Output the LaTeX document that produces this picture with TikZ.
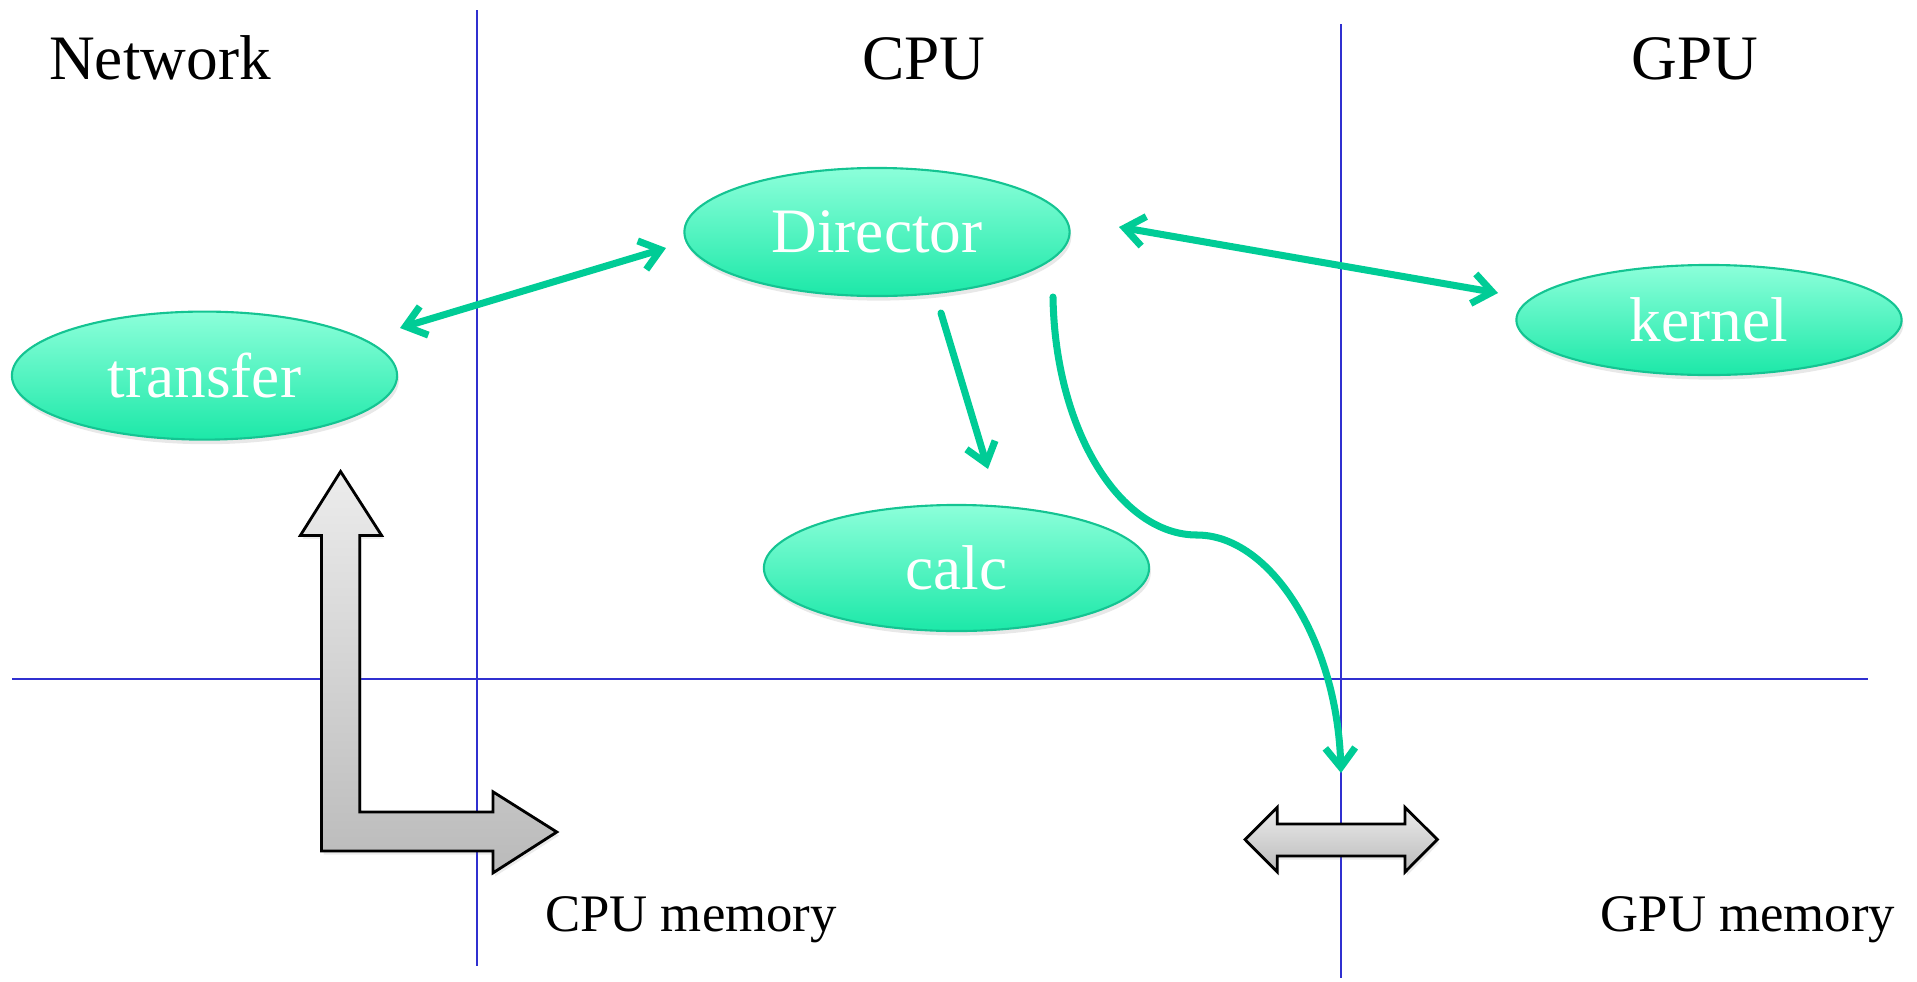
\documentclass[tikz,border=0pt]{standalone}
\usepackage{fontspec}
\setmainfont{Liberation Serif}
\usetikzlibrary{shapes.geometric,arrows.meta,shadows}

\definecolor{gridblue}{RGB}{48,48,208}
\definecolor{linkgreen}{RGB}{0,204,150}
\definecolor{bubbletop}{RGB}{140,255,218}
\definecolor{bubblebot}{RGB}{28,232,168}
\definecolor{bubbleedge}{RGB}{20,196,146}
\definecolor{blocktop}{RGB}{236,236,236}
\definecolor{blockbot}{RGB}{186,186,186}

\tikzset{
  bubble/.style={ellipse, draw=bubbleedge, line width=0.6pt,
    top color=bubbletop, bottom color=bubblebot,
    minimum width=3.85cm, minimum height=1.28cm, inner sep=0pt,
    text=white, font=\fontsize{18}{20}\selectfont,
    drop shadow={opacity=0.18, shadow xshift=0.5pt, shadow yshift=-1.3pt}},
  title/.style={font=\fontsize{18}{20}\selectfont, anchor=base, inner sep=0pt},
  memlabel/.style={font=\fontsize{15}{18}\selectfont, anchor=base, inner sep=0pt},
  divider/.style={draw=gridblue, line width=0.6pt},
  link/.style={draw=linkgreen, line width=2pt, line cap=round, line join=round},
  onehead/.style={-{Straight Barb[length=5.5pt,width=8.5pt]}},
  twohead/.style={{Straight Barb[length=5.5pt,width=8.5pt]}-{Straight Barb[length=5.5pt,width=8.5pt]}},
  block/.style={draw=black, line width=0.8pt, line join=miter,
    top color=blocktop, bottom color=blockbot,
    drop shadow={opacity=0.15, shadow xshift=0.6pt, shadow yshift=-1pt}}
}

\begin{document}
\begin{tikzpicture}[x=0.01cm, y=-0.01cm]
  \useasboundingbox (0,0) rectangle (1917,981);

  % dividing lines between the regions
  \draw[divider] (477,10) -- (477,966);
  \draw[divider] (1341,24) -- (1341,978);
  \draw[divider] (12,679) -- (1868,679);

  % region titles
  \node[title] (network) at (160,79.5) {Network};
  \node[title] (cpu) at (924,79.5) {CPU};
  \node[title] (gpu) at (1695,79.5) {GPU};

  % memory labels
  \node[memlabel] (cpumem) at (691,931) {CPU memory};
  \node[memlabel] (gpumem) at (1748,931) {GPU memory};

  % tasks
  \node[bubble] (transfer) at (204.5,375.6) {transfer};
  \node[bubble] (director) at (877,232) {Director};
  \node[bubble, minimum height=1.10cm] (kernel) at (1709,320) {kernel};
  \node[bubble, minimum height=1.26cm] (calc) at (956.5,568) {calc};

  % end points of the links
  \coordinate (trE) at (400,328);
  \coordinate (dirW) at (666,248);
  \coordinate (dirE) at (1119,227);
  \coordinate (kerW) at (1498,293);
  \coordinate (dirS) at (941,313);
  \coordinate (calcN) at (988,469);
  \coordinate (dirSE) at (1053,297);
  \coordinate (bend) at (1197,535);
  \coordinate (gpuLink) at (1341,773);

  % links
  \draw[link, twohead] (trE) -- (dirW);
  \draw[link, twohead] (dirE) -- (kerW);
  \draw[link, onehead] (dirS) -- (calcN);
  \draw[link, onehead] (dirSE) .. controls (1055,430) and (1120,535) .. (bend)
                               .. controls (1270,535) and (1337,640) .. (gpuLink);

  % network <-> CPU memory block arrow
  \path[block] (340.6,471.5) -- (381.6,535.4) -- (359.7,535.4) -- (359.7,812)
     -- (493,812) -- (493,791.8) -- (556.8,832) -- (493,872.9) -- (493,851)
     -- (321.5,851) -- (321.5,535.4) -- (300.4,535.4) -- cycle;

  % CPU memory <-> GPU memory block arrow
  \path[block] (1245,839.5) -- (1277.3,807.3) -- (1277.3,824) -- (1405,824)
     -- (1405,807.3) -- (1437.3,839.5) -- (1405,872) -- (1405,856)
     -- (1277.3,856) -- (1277.3,872) -- cycle;
\end{tikzpicture}
\end{document}
